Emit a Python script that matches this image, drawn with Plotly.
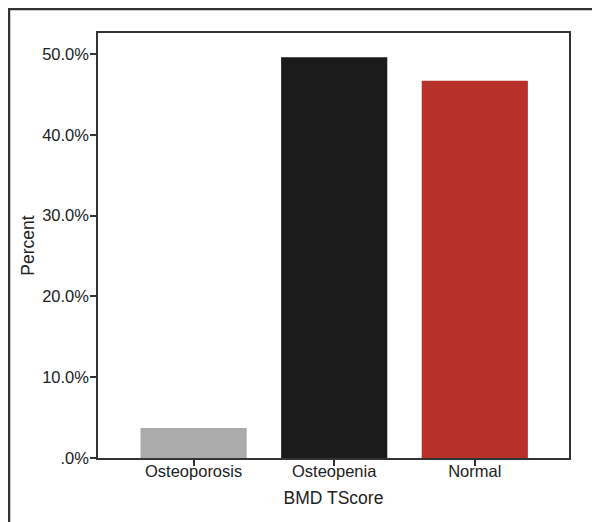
import plotly.graph_objects as go

categories = ["Osteoporosis", "Osteopenia", "Normal"]
percent_values = [3.7, 49.6, 46.7]
bar_colors = ["#ababab", "#1b1b1b", "#b8302a"]
y_tick_values = [0, 10, 20, 30, 40, 50]
y_tick_labels = [".0%", "10.0%", "20.0%", "30.0%", "40.0%", "50.0%"]

font_family = "Liberation Sans, Arial, sans-serif"
line_col = "#333333"

fig = go.Figure()
fig.add_trace(go.Bar(
    x=categories, y=percent_values,
    marker=dict(color=bar_colors, line=dict(width=0)),
    width=0.755,
))

fig.update_layout(
    width=600, height=522,
    margin=dict(l=90, r=39, t=25, b=72),
    paper_bgcolor="white", plot_bgcolor="white",
    font=dict(family=font_family, size=16.5, color="#222222"),
    showlegend=False,
    xaxis=dict(
        range=[-0.68, 2.67],
        showline=True, linecolor=line_col, linewidth=1.5, mirror=True,
        ticks="outside", ticklen=6, tickwidth=1.5, tickcolor=line_col,
        showgrid=False, zeroline=False, ticklabelstandoff=-9,
        title=dict(text="BMD TScore", font=dict(size=17.5), standoff=13),
        tickfont=dict(size=16.5),
    ),
    yaxis=dict(
        range=[0, 52.6],
        tickvals=y_tick_values, ticktext=y_tick_labels,
        showline=True, linecolor=line_col, linewidth=1.5, mirror=True,
        ticks="outside", ticklen=6, tickwidth=1.5, tickcolor=line_col,
        showgrid=False, zeroline=False, ticklabelstandoff=-2,
        title=dict(text="Percent", font=dict(size=17.5), standoff=3),
        tickfont=dict(size=16.5),
    ),
)

# outer frame (left and top edges at the figure edge)
fig.add_shape(type="line", xref="paper", yref="paper",
              x0=-89/471, x1=-89/471, y0=-1, y1=1 + 25/425,
              line=dict(color=line_col, width=2.5))
fig.add_shape(type="line", xref="paper", yref="paper",
              x0=-89/471, x1=1.2, y0=1 + 24/425, y1=1 + 24/425,
              line=dict(color=line_col, width=2.5))

fig.write_html("out.html")
